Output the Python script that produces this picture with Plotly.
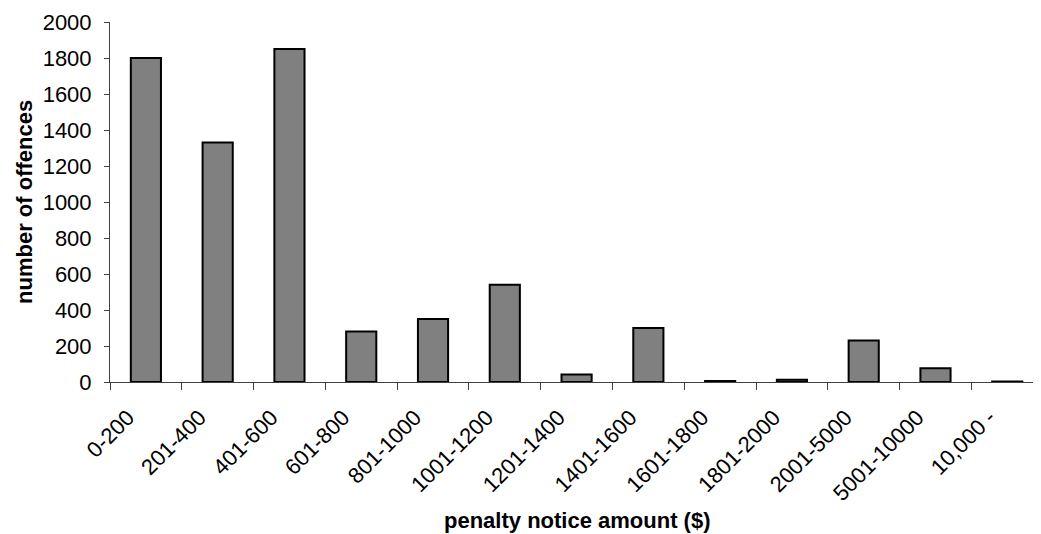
import plotly.graph_objects as go

categories = ["0-200", "201-400", "401-600", "601-800", "801-1000", "1001-1200",
              "1201-1400", "1401-1600", "1601-1800", "1801-2000", "2001-5000",
              "5001-10000", "10,000 -"]
offences = [1800, 1330, 1850, 280, 350, 540, 42, 300, 6, 12, 230, 76, 3]

x_title = "penalty notice amount ($)"
y_title = "number of offences"

fig = go.Figure()
fig.add_trace(go.Bar(
    x=categories, y=offences,
    width=0.42,
    marker=dict(color="#808080", line=dict(color="#000000", width=2)),
))

font = "Liberation Sans, Arial, sans-serif"
fig.update_layout(
    width=1033, height=526,
    margin=dict(l=102, r=0, t=14, b=152, autoexpand=False),
    paper_bgcolor="white", plot_bgcolor="white",
    showlegend=False,
    font=dict(family=font, size=22, color="#000000"),
    xaxis=dict(
        type="category", range=[-0.5, 12.47],
        showline=True, linecolor="#404040", linewidth=1,
        ticks="outside", tickson="boundaries", ticklen=7, tickcolor="#404040",
        tickangle=-45, tickfont=dict(size=22), ticklabelstandoff=13,
        ticklabelshift=-18,
        showgrid=False, zeroline=False, automargin=False,
    ),
    yaxis=dict(
        range=[0, 2000], dtick=200, tick0=0,
        showline=True, linecolor="#404040", linewidth=1,
        ticks="outside", ticklen=5, tickcolor="#404040",
        tickfont=dict(size=22), ticklabelstandoff=8,
        showgrid=False, zeroline=False, automargin=False,
    ),
    annotations=[
        dict(text="<b>" + x_title + "</b>", xref="paper", yref="paper",
             x=0.5016, y=-0.386, xanchor="center", yanchor="middle",
             showarrow=False, font=dict(size=22, family=font)),
        dict(text="<b>" + y_title + "</b>", xref="paper", yref="paper",
             x=-0.0924, y=0.5, xanchor="center", yanchor="middle", textangle=-90,
             showarrow=False, font=dict(size=22, family=font)),
    ],
)

fig.write_html("out.html")
